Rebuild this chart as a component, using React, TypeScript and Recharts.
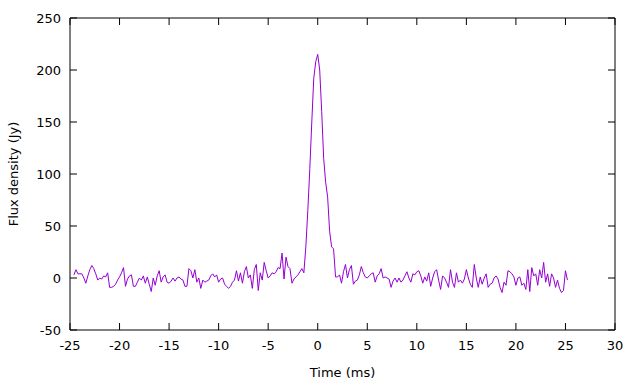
import React from "react";
import { LineChart, Line, XAxis, YAxis } from "recharts";

const T_START = -24.6;
const T_STEP = 0.2;

const FLUX: number[] = [
  3, 8, 4, 4, 4, 0, -5, 2, 8, 12,
  9, 4, -2, 0, -1, 2, 1, 5, -9, -9,
  -8, -6, -2, 1, 5, 10, -8, -1, 2, 3,
  -8, -8, -4, 0, -2, 2, -5, 1, -6, -13,
  0, -7, 2, 7, -4, 1, 3, -4, -5, -3,
  0, -3, 0, 1, -1, -2, -8, -8, 9, 7,
  0, 8, -4, 0, -10, -2, -4, -3, -2, 2,
  4, 1, 3, -4, -1, 0, -6, -8, -10, -8,
  -4, -2, 7, -3, 5, -5, 6, 11, 0, 3,
  -10, 8, 13, -12, 5, -2, 15, 7, 0, 2,
  5, 4, 6, 10, 9, 24, -1, 20, 11, 9,
  -5, -1, 1, 3, 6, 9, 5, 30, 65, 105,
  150, 192, 208, 215, 200, 160, 115, 92, 78, 45,
  30, 28, 1, 1, 3, -5, 6, 13, 0, 8,
  12, -6, -3, -2, 3, 11, 5, 1, 0, 2,
  4, 5, -4, 2, 4, 9, 0, 1, 0, -1,
  -9, -3, 0, -4, 0, -4, -2, 2, 6, 0,
  -4, 4, 3, 6, 7, 2, -5, 1, -3, 5,
  -8, 0, 6, 8, -2, -11, 2, 0, -4, -9,
  8, -4, -9, 5, -4, -2, -5, -1, 8, 0,
  -6, -9, 13, 0, -9, 1, -6, 0, 4, -9,
  -6, -5, 0, 2, -1, -9, -14, -4, -7, 7,
  6, 4, 1, -7, 0, 1, -7, -5, -11, 8,
  -13, 10, 2, 4, -7, 8, 0, 15, -4, 4,
  -8, 4, 0, -9, -2, -10, -14, -12, 7, -2,
];

const X_TICKS = [-25, -20, -15, -10, -5, 0, 5, 10, 15, 20, 25, 30];
const Y_TICKS = [-50, 0, 50, 100, 150, 200, 250];

const data = FLUX.map((v, i) => ({
  t: Math.round((T_START + i * T_STEP) * 100) / 100,
  flux: v,
}));

const FONT = "'DejaVu Sans', sans-serif";
const tickStyle = { fontSize: 13, fill: "#000", fontFamily: FONT };

export default function App() {
  return (
    <div style={{ position: "absolute", left: 0, top: 0 }}>
      <LineChart
        width={640}
        height={384}
        data={data}
        margin={{ top: 0, right: 0, left: 0, bottom: 0 }}
      >
        <XAxis
          xAxisId="bottom"
          dataKey="t"
          type="number"
          domain={[-25, 30]}
          ticks={X_TICKS}
          interval={0}
          height={54}
          orientation="bottom"
          stroke="#000"
          tickSize={-7}
          tickMargin={18}
          tick={tickStyle}
          allowDataOverflow
          label={{
            content: (p: any) => {
              const vb = p.viewBox;
              return (
                <text
                  x={vb.x + vb.width / 2}
                  y={vb.y + 47}
                  textAnchor="middle"
                  fontSize={13}
                  fontFamily={FONT}
                  fill="#000"
                >
                  Time (ms)
                </text>
              );
            },
          }}
        />
        <XAxis
          xAxisId="top"
          dataKey="t"
          type="number"
          domain={[-25, 30]}
          ticks={X_TICKS}
          interval={0}
          height={18}
          orientation="top"
          stroke="#000"
          tickSize={-7}
          tickFormatter={() => ""}
          allowDataOverflow
        />
        <YAxis
          yAxisId="left"
          type="number"
          domain={[-50, 250]}
          ticks={Y_TICKS}
          interval={0}
          width={70}
          orientation="left"
          stroke="#000"
          tickSize={-7}
          tickMargin={16}
          tick={tickStyle}
          allowDataOverflow
          label={{
            content: (p: any) => {
              const vb = p.viewBox;
              const cx = vb.x + 18;
              const cy = vb.y + vb.height / 2;
              return (
                <text
                  x={cx}
                  y={cy}
                  transform={`rotate(-90, ${cx}, ${cy})`}
                  textAnchor="middle"
                  fontSize={13}
                  fontFamily={FONT}
                  fill="#000"
                >
                  Flux density (Jy)
                </text>
              );
            },
          }}
        />
        <YAxis
          yAxisId="right"
          type="number"
          domain={[-50, 250]}
          ticks={Y_TICKS}
          interval={0}
          width={25}
          orientation="right"
          stroke="#000"
          tickSize={-7}
          tickFormatter={() => ""}
          allowDataOverflow
        />
        <Line
          xAxisId="bottom"
          yAxisId="left"
          type="linear"
          dataKey="flux"
          stroke="#9400d3"
          strokeWidth={1}
          dot={false}
          isAnimationActive={false}
        />
      </LineChart>
    </div>
  );
}
